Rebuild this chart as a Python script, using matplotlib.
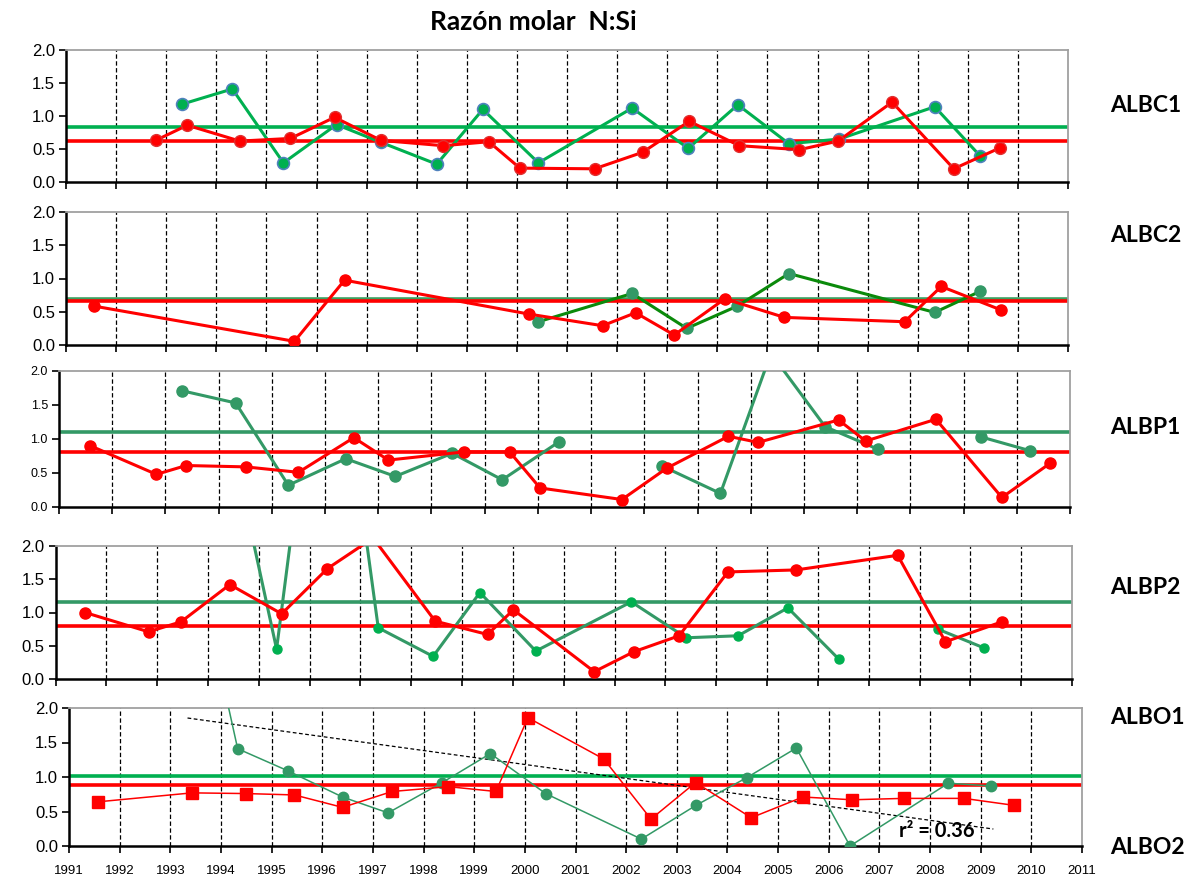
import numpy as np
import matplotlib
matplotlib.use("Agg")
import matplotlib.pyplot as plt

W, H = 1195, 881
NAN = np.nan

# ---------------- data ----------------
# ALBC1
c1_red_x = [1992.79, 1993.42, 1994.47, 1995.48, 1996.36, 1997.29, 1998.53, 1999.44, 2000.06, 2001.55,
            2002.51, 2003.44, 2004.44, 2005.64, 2006.41, 2007.49, 2008.72, 2009.65]
c1_red_y = [0.63, 0.86, 0.62, 0.66, 0.98, 0.63, 0.55, 0.61, 0.21, 0.20,
            0.45, 0.92, 0.55, 0.49, 0.62, 1.21, 0.20, 0.52]
c1_grn_x = [1993.32, 1994.32, 1995.34, 1996.40, 1997.29, 1998.40, 1999.32, 2000.43, 2002.30, 2003.42,
            2004.41, 2005.43, 2006.43, 2008.34, 2009.24]
c1_grn_y = [1.18, 1.41, 0.29, 0.87, 0.60, 0.27, 1.10, 0.29, 1.12, 0.51,
            1.17, 0.58, 0.65, 1.14, 0.40]
c1_red_mean = 0.62
c1_grn_mean = 0.84

# ALBC2
c2_red_x = [1991.56, 1995.56, 1996.56, 2000.24, 2001.71, 2002.37, 2003.14, 2004.15, 2005.34, 2007.74, 2008.47, 2009.67]
c2_red_y = [0.585, 0.055, 0.975, 0.465, 0.29, 0.485, 0.15, 0.695, 0.415, 0.35, 0.88, 0.525]
c2_grn_x = [2000.43, 2002.30, 2003.39, 2004.40, 2005.43, 2008.34, 2009.24]
c2_grn_y = [0.35, 0.775, 0.25, 0.585, 1.075, 0.49, 0.805]
c2_red_mean = 0.665
c2_grn_mean = 0.69

# ALBP1 (axis spans 1991-2010)
p1_red_x = [1991.59, 1992.83, 1993.39, 1994.51, 1995.50, 1996.54, 1997.19, 1998.61, 1999.47, 2000.04,
            2001.58, 2002.42, 2003.58, 2004.14, 2005.65, 2006.16, 2007.48, 2008.72, 2009.62]
p1_red_y = [0.90, 0.48, 0.61, 0.59, 0.51, 1.02, 0.69, 0.81, 0.81, 0.28,
            0.11, 0.57, 1.04, 0.95, 1.28, 0.97, 1.29, 0.14, 0.64]
p1_grn_x = [1993.31, 1994.32, 1995.31, 1996.39, 1997.32, 1998.39, 1999.33, 2000.40, NAN,
            2002.34, 2003.43, 2004.38, 2005.40, 2006.39, NAN, 2008.33, 2009.24]
p1_grn_y = [1.71, 1.53, 0.32, 0.71, 0.45, 0.79, 0.40, 0.96, NAN,
            0.60, 0.20, 2.26, 1.18, 0.85, NAN, 1.03, 0.83]
p1_red_mean = 0.81
p1_grn_mean = 1.11

# ALBP2
p2_red_x = [1991.58, 1992.83, 1993.47, 1994.43, 1995.45, 1996.35, 1997.25, 1998.47, 1999.50, 2000.01,
            2001.60, 2002.38, 2003.27, 2004.23, 2005.57, 2007.57, 2008.51, 2009.62]
p2_red_y = [1.00, 0.71, 0.86, 1.42, 0.98, 1.66, 2.12, 0.87, 0.67, 1.04,
            0.11, 0.41, 0.65, 1.61, 1.64, 1.86, 0.56, 0.86]
p2_grn_x = [1994.40, 1995.35, 1996.35, 1997.35, 1998.43, 1999.35, 2000.45, 2002.33, 2003.41, 2004.43,
            2005.41, 2006.41, NAN, 2008.36, 2009.26]
p2_grn_y = [3.80, 0.45, 6.40, 0.77, 0.34, 1.30, 0.42, 1.16, 0.62, 0.65,
            1.07, 0.30, NAN, 0.75, 0.47]
p2_red_mean = 0.79
p2_grn_mean = 1.16

# ALBO1 (red squares) / ALBO2 (green circles)
o_red_x = [1991.57, 1993.43, 1994.49, 1995.45, 1996.40, 1997.38, 1998.49, 1999.43, 2000.06,
           2001.56, 2002.49, 2003.37, 2004.47, 2005.49, 2006.46, 2007.48, 2008.67, 2009.65]
o_red_y = [0.64, 0.77, 0.76, 0.74, 0.56, 0.79, 0.86, 0.79, 1.86,
           1.26, 0.39, 0.92, 0.41, 0.71, 0.67, 0.69, 0.69, 0.59]
o_grn_x = [1993.43, 1994.33, 1995.32, 1996.40, 1997.30, 1998.37, 1999.32, 2000.41,
           2002.30, 2003.38, 2004.38, 2005.36, 2006.42, 2008.36, 2009.21]
o_grn_y = [4.40, 1.41, 1.09, 0.71, 0.48, 0.92, 1.34, 0.76,
           0.10, 0.59, 0.99, 1.42, 0.00, 0.91, 0.87]
o_red_mean = 0.89
o_grn_mean = 1.01
o_trend_x = [1993.34, 2009.25]
o_trend_y = [1.855, 0.246]
o_r2_text = "r² = 0.36"

y_ticks = [0.0, 0.5, 1.0, 1.5, 2.0]
x_years = list(range(1991, 2012))
panel_names = ["ALBC1", "ALBC2", "ALBP1", "ALBP2", "ALBO1", "ALBO2"]
title_text = "Razón molar  N:Si"

# ---------------- style ----------------
RED = "#FF0000"
GREEN = "#00B050"
SEAGREEN = "#339966"
DKGREEN = "#0B8A0B"
BLUEEDGE = "#4F81BD"

fig = plt.figure(figsize=(W / 100, H / 100), dpi=100)


def make_ax(left, right, top, bottom, x0, x1, tick_fs):
    ax = fig.add_axes([left / W, 1 - bottom / H, (right - left) / W, (bottom - top) / H])
    ax.set_xlim(x0, x1)
    ax.set_ylim(0, 2.0)
    ax.set_yticks(y_ticks)
    ax.set_yticklabels([f"{v:.1f}" for v in y_ticks], fontsize=tick_fs, family="Liberation Sans")
    ax.set_xticks(range(x0, x1 + 1))
    ax.set_xticklabels([])
    for yr in range(x0 + 1, x1):
        ax.axvline(yr, color="black", lw=0.9, ls=(0, (3.5, 2)), zorder=1)
    for s in ("top", "right"):
        ax.spines[s].set_color("#A0A0A0")
        ax.spines[s].set_linewidth(1.3)
    for s in ("left", "bottom"):
        ax.spines[s].set_color("black")
        ax.spines[s].set_linewidth(1.8)
    ax.tick_params(axis="both", direction="out", length=5, width=1.2, color="black", pad=3)
    return ax


# Panel ALBC1
ax1 = make_ax(66, 1068, 50, 182, 1991, 2011, 12)
ax1.axhline(c1_grn_mean, color=GREEN, lw=2.6, zorder=2)
ax1.axhline(c1_red_mean, color=RED, lw=2.6, zorder=2)
ax1.plot(c1_grn_x, c1_grn_y, color=GREEN, lw=2.2, marker="o", ms=8.5, mfc=GREEN, mec=BLUEEDGE, mew=1.2, zorder=3)
ax1.plot(c1_red_x, c1_red_y, color=RED, lw=2.2, marker="o", ms=8.5, mfc=RED, mec="#E03030", mew=1.0, zorder=4)

# Panel ALBC2
ax2 = make_ax(66, 1068, 212, 345, 1991, 2011, 12)
ax2.axhline(c2_grn_mean, color="#3CA060", lw=2.6, zorder=2)
ax2.axhline(c2_red_mean, color=RED, lw=2.6, zorder=2)
ax2.plot(c2_grn_x, c2_grn_y, color=DKGREEN, lw=2.2, marker="o", ms=8, mfc=SEAGREEN, mec=SEAGREEN, zorder=3)
ax2.plot(c2_red_x, c2_red_y, color=RED, lw=2.2, marker="o", ms=8, mfc=RED, mec=RED, zorder=4)

# Panel ALBP1
ax3 = make_ax(59, 1070, 371, 507, 1991, 2010, 9)
ax3.axhline(p1_grn_mean, color=SEAGREEN, lw=2.6, zorder=2)
ax3.axhline(p1_red_mean, color=RED, lw=2.6, zorder=2)
ax3.plot(p1_grn_x, p1_grn_y, color=SEAGREEN, lw=2.2, marker="o", ms=8, mfc=SEAGREEN, mec=SEAGREEN, zorder=3)
ax3.plot(p1_red_x, p1_red_y, color=RED, lw=2.2, marker="o", ms=8, mfc=RED, mec=RED, zorder=4)

# Panel ALBP2
ax4 = make_ax(55.5, 1072, 546, 679, 1991, 2011, 12)
ax4.axhline(p2_grn_mean, color=SEAGREEN, lw=2.6, zorder=2)
ax4.axhline(p2_red_mean, color=RED, lw=2.6, zorder=2)
ax4.plot(p2_grn_x, p2_grn_y, color=SEAGREEN, lw=2.2, marker="o", ms=6.5, mfc=GREEN, mec=GREEN, zorder=3)
ax4.plot(p2_red_x, p2_red_y, color=RED, lw=2.2, marker="o", ms=8, mfc=RED, mec=RED, zorder=4)

# Panel ALBO1 / ALBO2
ax5 = make_ax(69, 1082, 708, 846, 1991, 2011, 12)
ax5.set_xticks(x_years)
ax5.set_xticklabels([str(y) for y in x_years], fontsize=9.5, family="Liberation Sans")
ax5.tick_params(axis="x", pad=9)
ax5.axhline(o_grn_mean, color=GREEN, lw=2.6, zorder=2)
ax5.axhline(o_red_mean, color=RED, lw=2.6, zorder=2)
ax5.plot(o_trend_x, o_trend_y, color="black", lw=0.9, ls=(0, (3, 2)), zorder=3)
ax5.plot(o_grn_x, o_grn_y, color=SEAGREEN, lw=1.1, marker="o", ms=7.5, mfc=SEAGREEN, mec=SEAGREEN, zorder=3)
ax5.plot(o_red_x, o_red_y, color=RED, lw=1.1, marker="s", ms=8, mfc=RED, mec=RED, zorder=4)
fig.text(899 / W, 1 - 831 / H, o_r2_text, fontsize=14.5, fontweight="bold", family="Lato",
         ha="left", va="center")

# Title and panel labels
fig.text(533 / W, 1 - 22 / H, title_text, fontsize=19, fontweight="bold", family="Lato",
         ha="center", va="center")
label_pos = [(105, panel_names[0]), (236, panel_names[1]), (427, panel_names[2]),
             (588, panel_names[3]), (718, panel_names[4]), (848, panel_names[5])]
for ypix, name in label_pos:
    fig.text(1110 / W, 1 - ypix / H, name, fontsize=16.5, fontweight="bold", family="Lato",
             ha="left", va="center")

fig.savefig("out.png", dpi=100)
